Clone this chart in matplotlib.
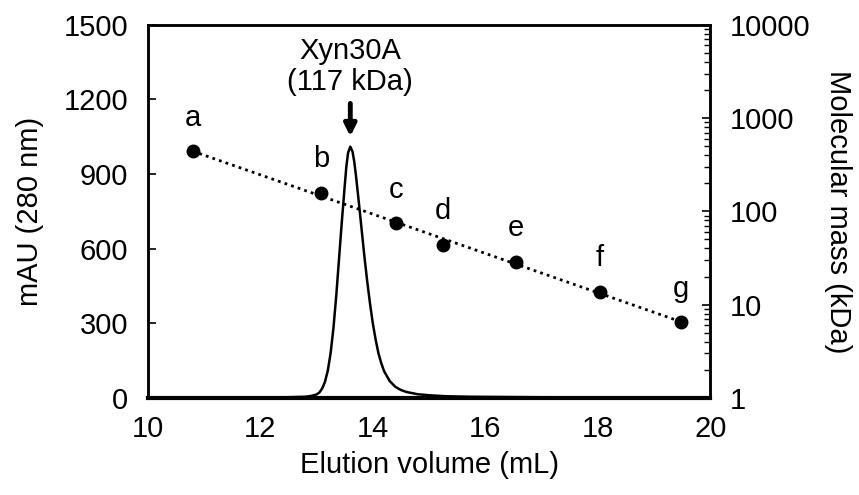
import numpy as np
import matplotlib
matplotlib.use("Agg")
import matplotlib.pyplot as plt
from matplotlib.ticker import FixedLocator, FixedFormatter, LogLocator, NullFormatter

plt.rcParams['font.family'] = ['Liberation Sans', 'DejaVu Sans']

# chromatogram
vol = [10.0, 12.5, 12.8, 12.9, 13.0, 13.05, 13.1, 13.15, 13.2, 13.25, 13.3, 13.35,
       13.4, 13.45, 13.5, 13.53, 13.56, 13.6, 13.64, 13.67, 13.7, 13.75, 13.8,
       13.85, 13.9, 13.95, 14.0, 14.05, 14.1, 14.15, 14.2, 14.3, 14.4, 14.5,
       14.6, 14.8, 15.0, 15.3, 15.7, 16.3, 17.0, 20.0]
mau = [2, 3, 5, 8, 14, 22, 38, 65, 110, 180, 280, 410,
       560, 710, 850, 930, 985, 1010, 990, 950, 895, 790, 680,
       570, 470, 380, 300, 235, 180, 140, 108, 68, 45, 32,
       24, 15, 11, 7, 5, 4, 3, 2]

# standards
std_labels = ['a', 'b', 'c', 'd', 'e', 'f', 'g']
std_vol = [10.8, 13.08, 14.41, 15.25, 16.55, 18.04, 19.47]
std_mass = [440, 158, 75, 44, 29, 13.7, 6.5]

fs = 21

fig = plt.figure(figsize=(8.59, 4.95), dpi=100)
ax = fig.add_axes([0.172, 0.196, 0.655, 0.754])
ax.plot(vol, mau, color='black', lw=1.8)
ax.set_xlim(10, 20)
ax.set_ylim(0, 1500)
ax.set_yticks([0, 300, 600, 900, 1200, 1500])
ax.set_xticks([10, 12, 14, 16, 18, 20])
ax.tick_params(axis='x', length=0, labelsize=fs, pad=12)
ax.tick_params(axis='y', direction='in', length=6, width=1.2, labelsize=fs, pad=14)
ax.set_xlabel("Elution volume (mL)", fontsize=fs, labelpad=6)
ax.set_ylabel("mAU (280 nm)", fontsize=fs, labelpad=14)
for s in ax.spines.values():
    s.set_linewidth(1.8)
ax.spines['bottom'].set_linewidth(3)

ax.annotate("", xy=(13.6, 1040), xytext=(13.6, 1195),
            arrowprops=dict(arrowstyle='-|>,head_width=0.35,head_length=0.7', color='black', lw=3.5))
ax.text(13.6, 1215, "Xyn30A\n(117 kDa)", ha='center', va='bottom', fontsize=fs, linespacing=1.1)

ax2 = ax.twinx()
ax2.set_yscale('log')
ax2.set_ylim(1, 10000)
fit = np.polyfit(std_vol, np.log10(std_mass), 1)
xf = np.array([std_vol[0], std_vol[-1]])
ax2.plot(xf, 10 ** np.polyval(fit, xf), color='black', ls=(0, (1, 1.5)), lw=2)
ax2.plot(std_vol, std_mass, 'o', color='black', ms=9)
for lab, xv, yv in zip(std_labels, std_vol, std_mass):
    ax2.annotate(lab, (xv, yv), xytext=(0, 14), textcoords='offset points',
                 ha='center', va='bottom', fontsize=fs)
ax2.yaxis.set_major_locator(FixedLocator([1, 10, 100, 1000, 10000]))
ax2.yaxis.set_major_formatter(FixedFormatter(['1', '10', '100', '1000', '10000']))
ax2.yaxis.set_minor_locator(LogLocator(base=10, subs=np.arange(2, 10)))
ax2.yaxis.set_minor_formatter(NullFormatter())
ax2.tick_params(axis='y', which='major', direction='in', length=6, width=1.2, labelsize=fs, pad=14)
ax2.tick_params(axis='y', which='minor', direction='in', length=4, width=1)
ax2.set_ylabel("Molecular mass (kDa)", fontsize=fs, rotation=270, labelpad=30)
for s in ax2.spines.values():
    s.set_linewidth(1.8)

fig.savefig("out.png", dpi=100)
